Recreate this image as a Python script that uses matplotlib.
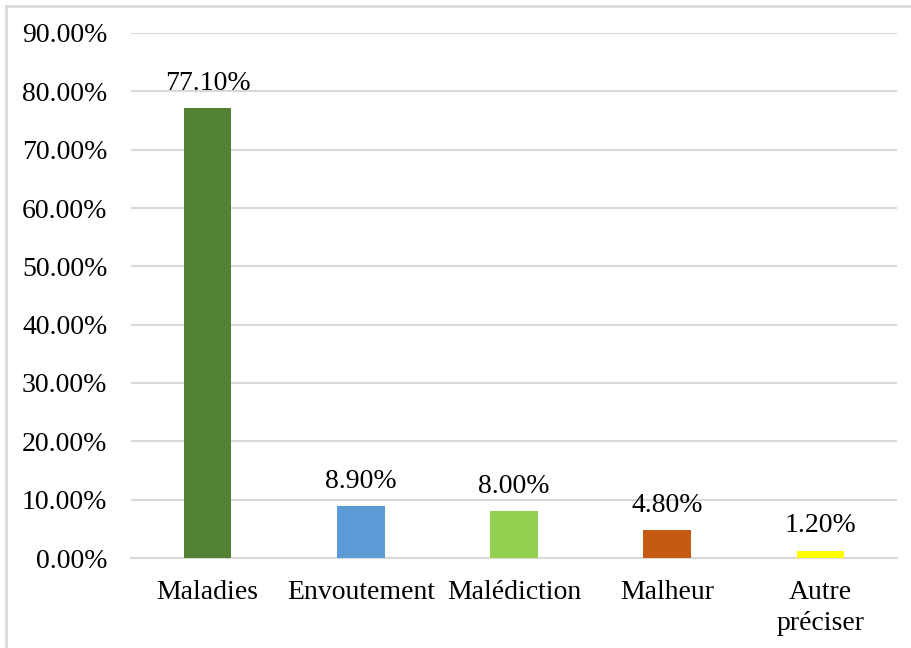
import matplotlib.pyplot as plt
from matplotlib.lines import Line2D
from matplotlib.ticker import FuncFormatter

categories = ['Maladies', 'Envoutement', 'Malédiction', 'Malheur', 'Autre\npréciser']
values = [77.10, 8.90, 8.00, 4.80, 1.20]
colors = ['#548235', '#5b9bd5', '#92d050', '#c55a11', '#ffff00']
yticks = [0, 10, 20, 30, 40, 50, 60, 70, 80, 90]

plt.rcParams['font.family'] = ['Liberation Serif', 'DejaVu Serif']

fig = plt.figure(figsize=(9.12, 6.48), dpi=100)
ax = fig.add_axes([131 / 912, 1 - 558 / 648, 766 / 912, 525 / 648])

x = range(len(categories))
bars = ax.bar(x, values, width=0.31, color=colors, zorder=3)

for b, v in zip(bars, values):
    ax.annotate('%.2f%%' % v, (b.get_x() + b.get_width() / 2, v),
                xytext=(0, 9), textcoords='offset points',
                ha='center', va='bottom', fontsize=20)

ax.set_xlim(-0.5, len(categories) - 0.5)
ax.set_ylim(0, 90)
ax.set_yticks(yticks)
ax.yaxis.set_major_formatter(FuncFormatter(lambda v, p: '%.2f%%' % v))
ax.set_xticks(list(x))
ax.set_xticklabels(categories, linespacing=1.3)
ax.tick_params(axis='y', length=0, pad=17, labelsize=20)
ax.tick_params(axis='x', length=0, pad=16, labelsize=20)
ax.grid(axis='y', color='#d9d9d9', linewidth=1.5, zorder=0)
for s in ['top', 'right', 'left']:
    ax.spines[s].set_visible(False)
ax.spines['bottom'].set_color('#d9d9d9')
ax.spines['bottom'].set_linewidth(1.5)

# light frame around the chart (top and left visible)
fig.add_artist(Line2D([6 / 912, 1], [1 - 5.5 / 648] * 2, color='#d9d9d9', lw=2))
fig.add_artist(Line2D([6.5 / 912] * 2, [0, 1 - 5.5 / 648], color='#d9d9d9', lw=2))

fig.savefig('out.png', dpi=100)
